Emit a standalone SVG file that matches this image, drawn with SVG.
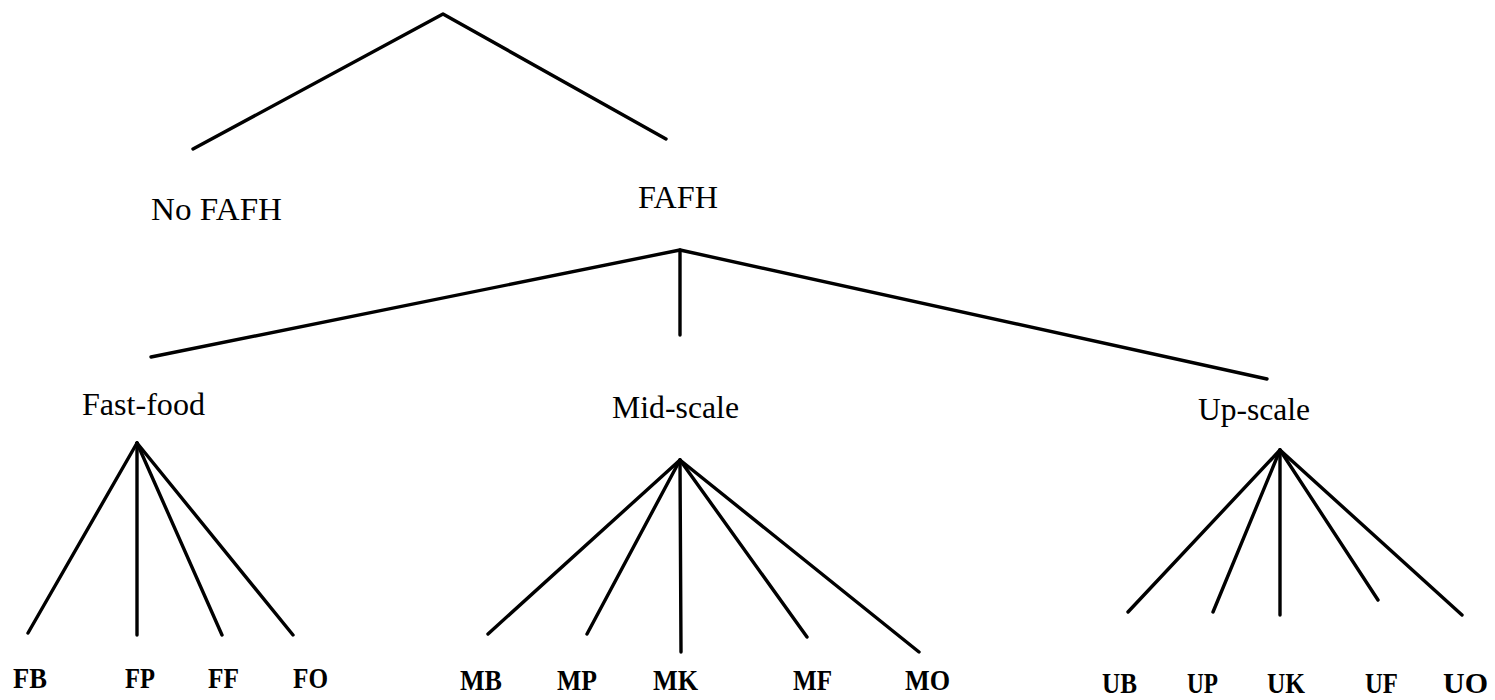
<svg xmlns="http://www.w3.org/2000/svg" width="1495" height="700" viewBox="0 0 1495 700">
<style>
.edge{stroke:#000;stroke-width:3.4;fill:none;stroke-linecap:round;stroke-linejoin:round}
.lbl{font-family:"Liberation Serif","Times New Roman",serif;font-size:32px;fill:#000}
.leaf{font-family:"Liberation Serif","Times New Roman",serif;font-size:29px;font-weight:bold;fill:#000}
</style>
<rect width="1495" height="700" fill="#fff"/>
<g id="connectors">
<polyline class="edge" points="193,149 443,14 666,139"/>
<polyline class="edge" points="151,357 680,250 1267,379"/>
<line class="edge" x1="680" y1="250" x2="680" y2="335"/>
<line class="edge" x1="137" y1="443" x2="28" y2="633"/>
<line class="edge" x1="137" y1="443" x2="137" y2="635"/>
<line class="edge" x1="137" y1="443" x2="222" y2="635"/>
<line class="edge" x1="137" y1="443" x2="293" y2="635"/>
<line class="edge" x1="680" y1="460" x2="488" y2="634"/>
<line class="edge" x1="680" y1="460" x2="587" y2="634"/>
<line class="edge" x1="680" y1="460" x2="681" y2="652"/>
<line class="edge" x1="680" y1="460" x2="807" y2="637"/>
<line class="edge" x1="680" y1="460" x2="919" y2="652"/>
<line class="edge" x1="1280" y1="450" x2="1128" y2="612"/>
<line class="edge" x1="1280" y1="450" x2="1213" y2="612"/>
<line class="edge" x1="1280" y1="450" x2="1280" y2="615"/>
<line class="edge" x1="1280" y1="450" x2="1378" y2="600"/>
<line class="edge" x1="1280" y1="450" x2="1462" y2="615"/>
</g>
<g id="nofafh"><text class="lbl" x="151" y="220" textLength="131" lengthAdjust="spacingAndGlyphs">No FAFH</text></g>
<g id="fafh"><text class="lbl" x="638" y="208" textLength="80" lengthAdjust="spacingAndGlyphs">FAFH</text></g>
<g id="fastfood"><text class="lbl" x="82" y="415" textLength="123" lengthAdjust="spacingAndGlyphs">Fast-food</text></g>
<g id="midscale"><text class="lbl" x="612" y="418" textLength="127" lengthAdjust="spacingAndGlyphs">Mid-scale</text></g>
<g id="upscale"><text class="lbl" x="1198" y="420" textLength="112" lengthAdjust="spacingAndGlyphs">Up-scale</text></g>
<g id="FB"><text class="leaf" x="13" y="688" textLength="34" lengthAdjust="spacingAndGlyphs">FB</text></g>
<g id="FP"><text class="leaf" x="125" y="688" textLength="30" lengthAdjust="spacingAndGlyphs">FP</text></g>
<g id="FF"><text class="leaf" x="208" y="688" textLength="31" lengthAdjust="spacingAndGlyphs">FF</text></g>
<g id="FO"><text class="leaf" x="293" y="688" textLength="35" lengthAdjust="spacingAndGlyphs">FO</text></g>
<g id="MB"><text class="leaf" x="460" y="690" textLength="42" lengthAdjust="spacingAndGlyphs">MB</text></g>
<g id="MP"><text class="leaf" x="557" y="690" textLength="40" lengthAdjust="spacingAndGlyphs">MP</text></g>
<g id="MK"><text class="leaf" x="653" y="690" textLength="45" lengthAdjust="spacingAndGlyphs">MK</text></g>
<g id="MF"><text class="leaf" x="793" y="690" textLength="39" lengthAdjust="spacingAndGlyphs">MF</text></g>
<g id="MO"><text class="leaf" x="905" y="690" textLength="45" lengthAdjust="spacingAndGlyphs">MO</text></g>
<g id="UB"><text class="leaf" x="1102" y="693" textLength="35" lengthAdjust="spacingAndGlyphs">UB</text></g>
<g id="UP"><text class="leaf" x="1187" y="693" textLength="31" lengthAdjust="spacingAndGlyphs">UP</text></g>
<g id="UK"><text class="leaf" x="1267" y="693" textLength="38" lengthAdjust="spacingAndGlyphs">UK</text></g>
<g id="UF"><text class="leaf" x="1365" y="693" textLength="33" lengthAdjust="spacingAndGlyphs">UF</text></g>
<g id="UO"><text class="leaf" x="1443" y="693" textLength="45" lengthAdjust="spacingAndGlyphs">UO</text></g>
</svg>
